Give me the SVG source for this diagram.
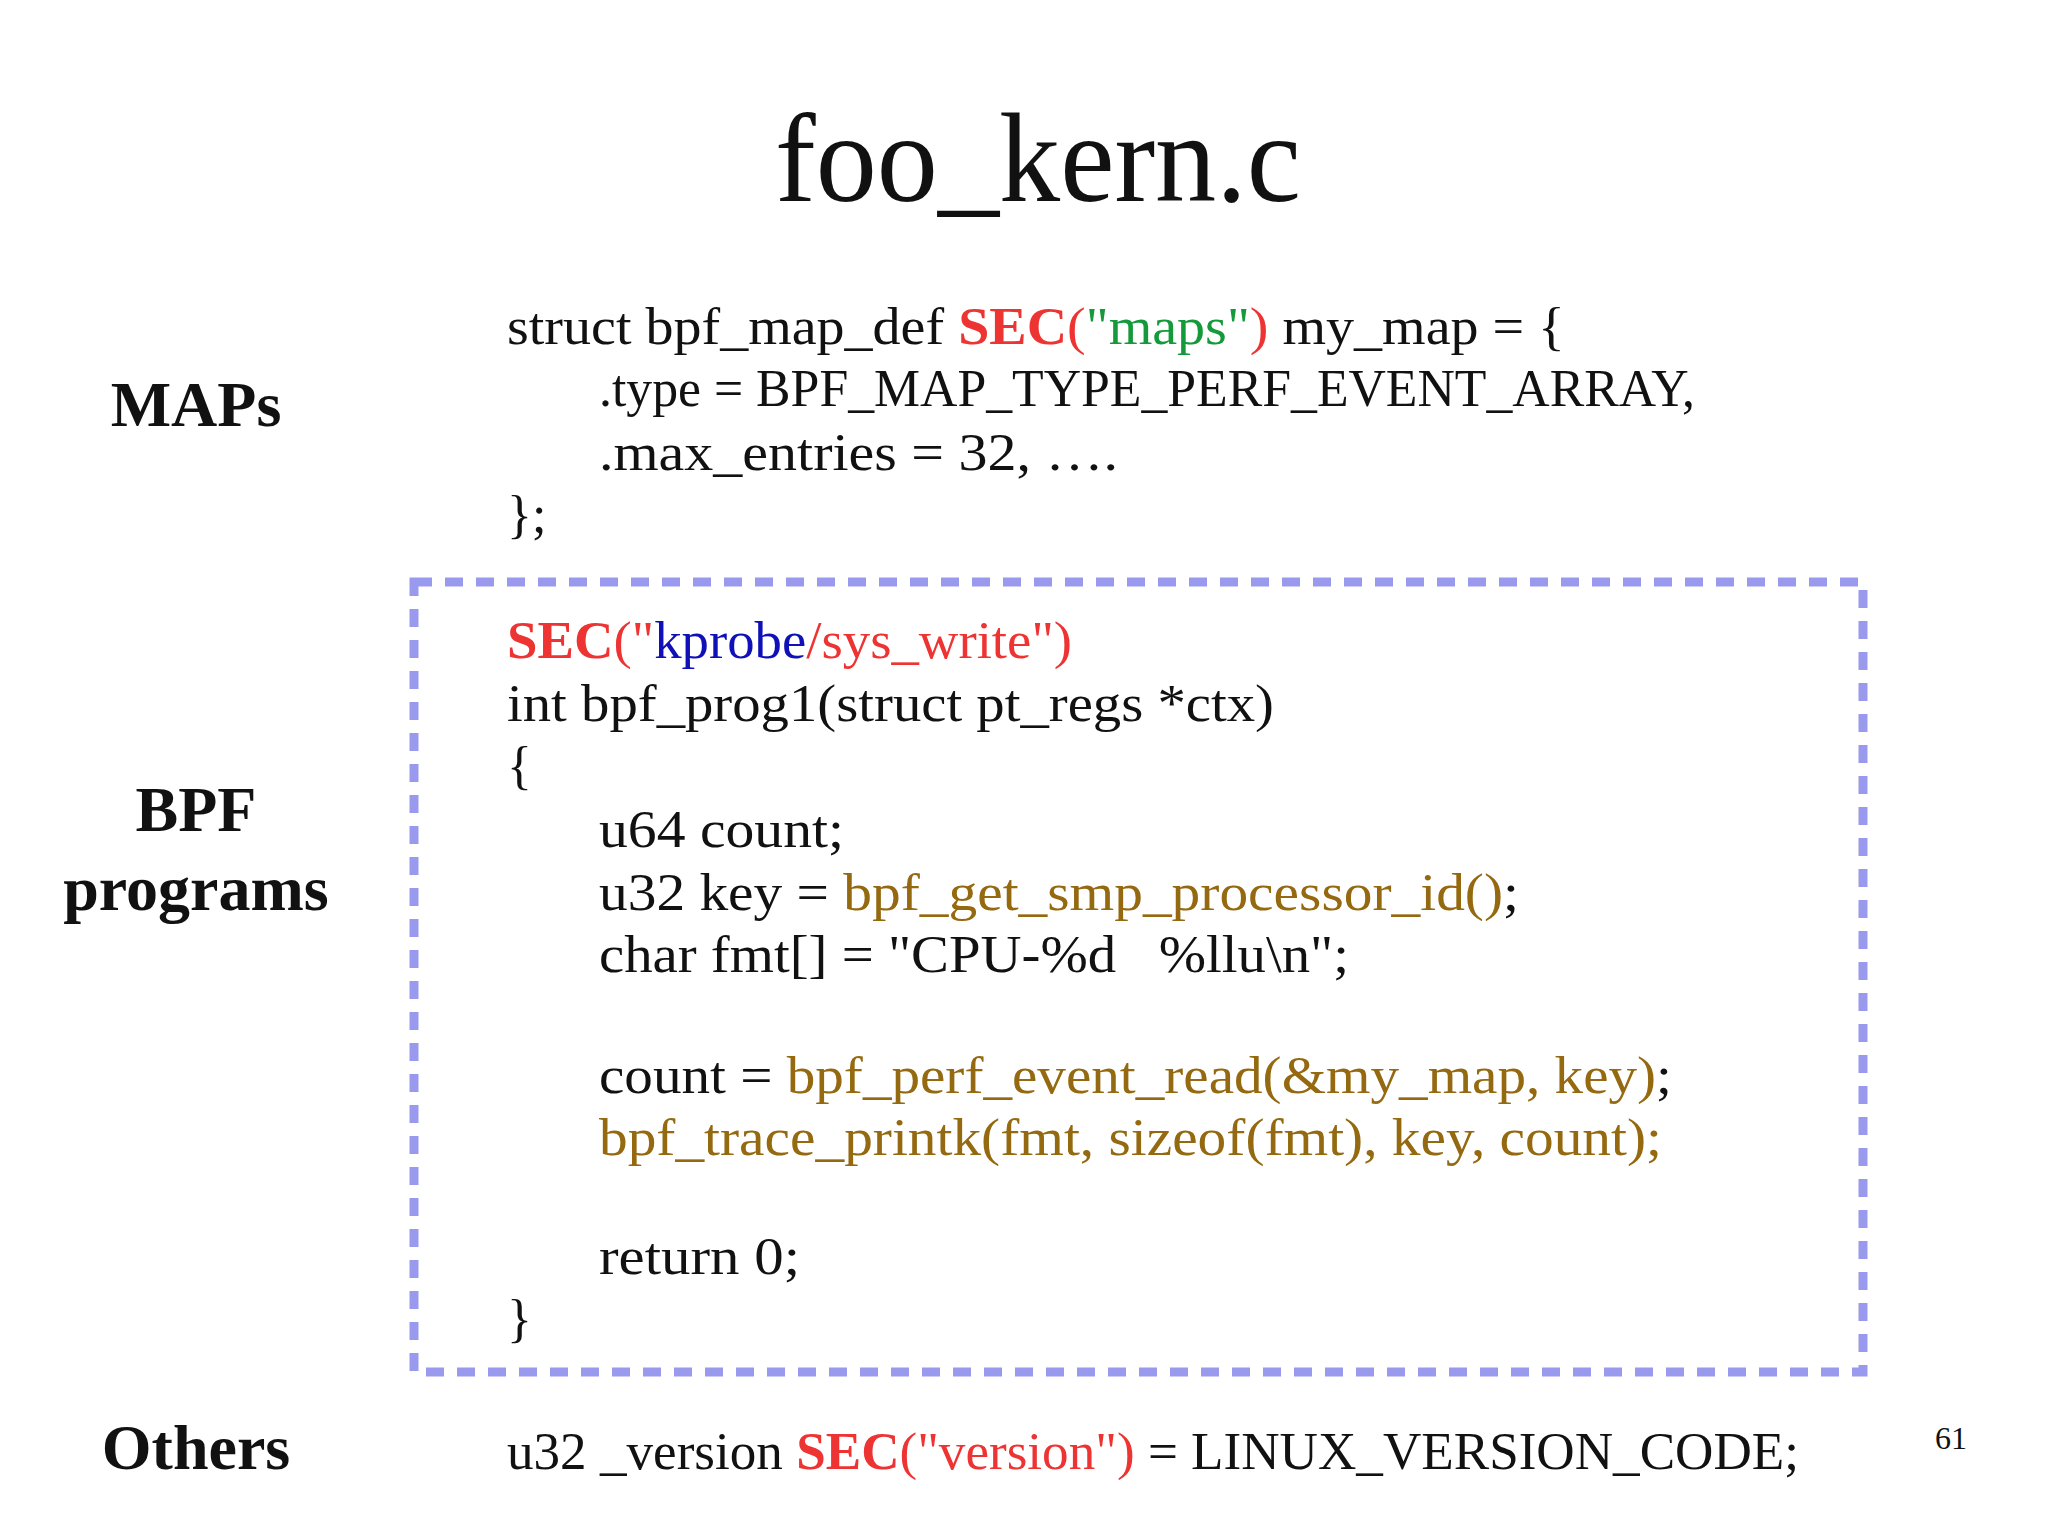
<svg xmlns="http://www.w3.org/2000/svg" width="2048" height="1535" viewBox="0 0 2048 1535">
<style>
.c{font-family:"Liberation Serif","DejaVu Serif",serif;font-size:52px;fill:#111}
.l{font-family:"Liberation Serif","DejaVu Serif",serif;font-size:64px;font-weight:bold;fill:#111;text-anchor:middle}
.r{fill:#ee3333}.rb{fill:#ee3333;font-weight:bold}.g{fill:#149a3a}.b{fill:#1010b8}.o{fill:#94690f}
</style>
<rect width="2048" height="1535" fill="#fff"/>
<text x="1038" y="201" font-family="Liberation Serif,serif" font-size="126" fill="#111" text-anchor="middle" textLength="526" lengthAdjust="spacingAndGlyphs">foo_kern.c</text>
<g id="labels">
<text class="l" x="196" y="426">MAPs</text>
<text class="l" x="196" y="831">BPF</text>
<text class="l" x="196" y="910">programs</text>
<text class="l" x="196" y="1469">Others</text>
</g>
<g id="maps">
<text class="c" x="507" y="344" textLength="1058" lengthAdjust="spacingAndGlyphs">struct bpf_map_def <tspan class="rb">SEC</tspan><tspan class="r">(</tspan><tspan class="g">"maps"</tspan><tspan class="r">)</tspan> my_map = {</text>
<text class="c" x="599" y="406" textLength="1096" lengthAdjust="spacingAndGlyphs">.type = BPF_MAP_TYPE_PERF_EVENT_ARRAY,</text>
<text class="c" x="599" y="470" textLength="519" lengthAdjust="spacingAndGlyphs">.max_entries = 32, ….</text>
<text class="c" x="507" y="532">};</text>
</g>
<g id="connectors">
<rect x="414" y="582" width="1449" height="790" fill="none" stroke="#9999ee" stroke-width="9" stroke-dasharray="18 13"/>
</g>
<g id="program">
<text class="c" x="507" y="658" textLength="565" lengthAdjust="spacingAndGlyphs"><tspan class="rb">SEC</tspan><tspan class="r">("</tspan><tspan class="b">kprobe</tspan><tspan class="r">/sys_write")</tspan></text>
<text class="c" x="507" y="721" textLength="767" lengthAdjust="spacingAndGlyphs">int bpf_prog1(struct pt_regs *ctx)</text>
<text class="c" x="507" y="783">{</text>
<text class="c" x="599" y="847" textLength="245" lengthAdjust="spacingAndGlyphs">u64 count;</text>
<text class="c" x="599" y="910" textLength="920" lengthAdjust="spacingAndGlyphs">u32 key = <tspan class="o">bpf_get_smp_processor_id()</tspan>;</text>
<text class="c" x="599" y="972" textLength="750" lengthAdjust="spacingAndGlyphs" xml:space="preserve">char fmt[] = "CPU-%d   %llu\n";</text>
<text class="c" x="599" y="1093" textLength="1073" lengthAdjust="spacingAndGlyphs">count = <tspan class="o">bpf_perf_event_read(&amp;my_map, key)</tspan>;</text>
<text class="c o" x="599" y="1155" textLength="1063" lengthAdjust="spacingAndGlyphs">bpf_trace_printk(fmt, sizeof(fmt), key, count);</text>
<text class="c" x="599" y="1274" textLength="201" lengthAdjust="spacingAndGlyphs">return 0;</text>
<text class="c" x="507" y="1336">}</text>
</g>
<g id="others">
<text class="c" x="507" y="1469" textLength="1292" lengthAdjust="spacingAndGlyphs">u32 _version <tspan class="rb">SEC</tspan><tspan class="r">("version")</tspan> = LINUX_VERSION_CODE;</text>
</g>
<text x="1951" y="1449" font-family="Liberation Serif,serif" font-size="32" fill="#111" text-anchor="middle">61</text>
</svg>
